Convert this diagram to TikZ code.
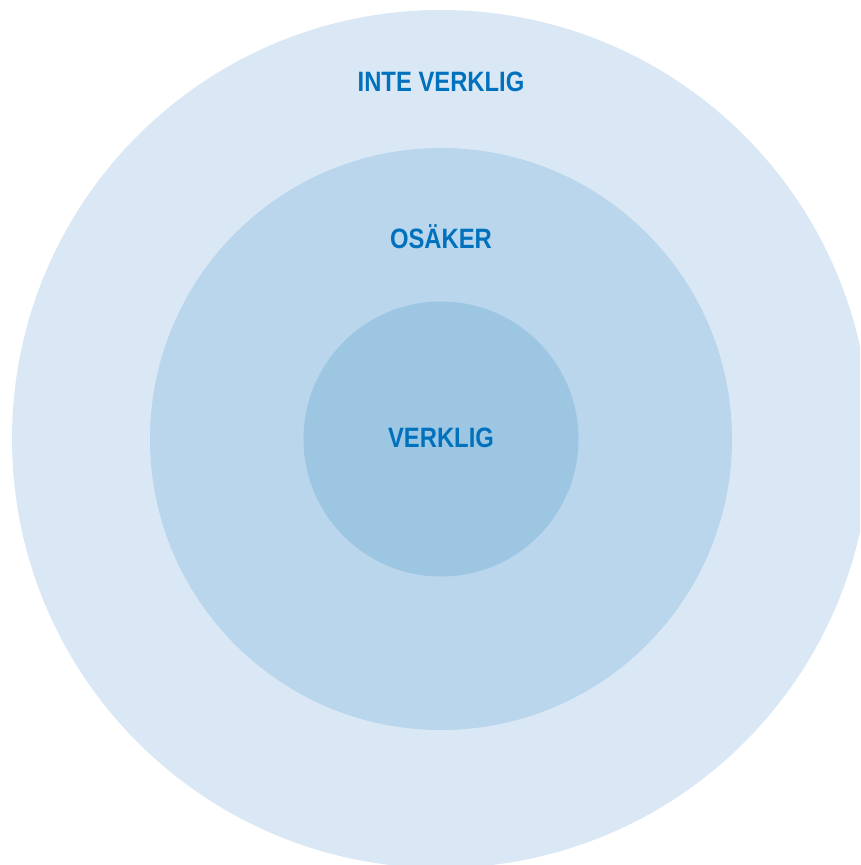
\documentclass[tikz,border=0pt]{standalone}
\usepackage{fontspec}
\setmainfont{Liberation Sans}[FakeStretch=0.85]
\definecolor{outerc}{HTML}{DAE8F5}
\definecolor{midc}{HTML}{B9D6EC}
\definecolor{innerc}{HTML}{9DC6E3}
\definecolor{textc}{HTML}{0071BC}
\begin{document}
\begin{tikzpicture}[x=1pt,y=-1pt,
  lbl/.style={font=\fontsize{28}{32}\selectfont\bfseries,text=textc,inner sep=0pt,anchor=base}]
\useasboundingbox (0,0) rectangle (860,865);
\begin{scope}
\clip (0,0) rectangle (860,865);
\fill[outerc] (441,439) circle[radius=429];
\fill[midc] (441,439) circle[radius=291];
\fill[innerc] (441,439) circle[radius=137.5];
\end{scope}
\coordinate (c) at (441,439);
\node[lbl] (outer) at (441,91.5) {INTE VERKLIG};
\node[lbl] (mid) at (441,248.5) {OSÄKER};
\node[lbl] (inner) at (441,447.5) {VERKLIG};
\end{tikzpicture}
\end{document}
